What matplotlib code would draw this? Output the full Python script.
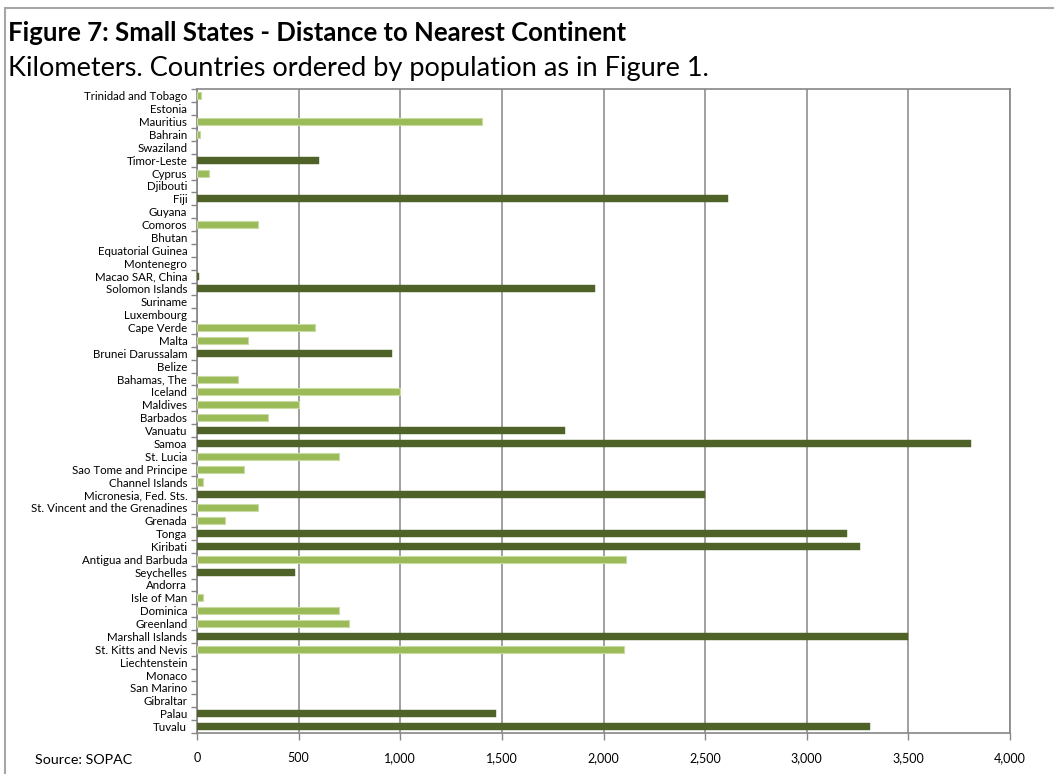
import matplotlib
matplotlib.use("Agg")
import matplotlib.pyplot as plt
from matplotlib.patches import Rectangle
from matplotlib.ticker import FuncFormatter

plt.rcParams['font.family'] = ['Lato', 'DejaVu Sans']

# Countries ordered by population (top to bottom)
countries = [
    "Trinidad and Tobago", "Estonia", "Mauritius", "Bahrain", "Swaziland",
    "Timor-Leste", "Cyprus", "Djibouti", "Fiji", "Guyana", "Comoros", "Bhutan",
    "Equatorial Guinea", "Montenegro", "Macao SAR, China", "Solomon Islands",
    "Suriname", "Luxembourg", "Cape Verde", "Malta", "Brunei Darussalam",
    "Belize", "Bahamas, The", "Iceland", "Maldives", "Barbados", "Vanuatu",
    "Samoa", "St. Lucia", "Sao Tome and Principe", "Channel Islands",
    "Micronesia, Fed. Sts.", "St. Vincent and the Grenadines", "Grenada",
    "Tonga", "Kiribati", "Antigua and Barbuda", "Seychelles", "Andorra",
    "Isle of Man", "Dominica", "Greenland", "Marshall Islands",
    "St. Kitts and Nevis", "Liechtenstein", "Monaco", "San Marino",
    "Gibraltar", "Palau", "Tuvalu",
]

# Distance to nearest continent, km
distance_km = [
    20, 0, 1400, 15, 0,
    600, 60, 0, 2610, 0, 300, 0,
    0, 0, 10, 1960,
    0, 0, 580, 250, 960,
    0, 200, 1000, 500, 350, 1810,
    3810, 700, 230, 30,
    2500, 300, 140,
    3200, 3260, 2110, 480, 0,
    30, 700, 750, 3500,
    2100, 0, 0, 0,
    0, 1470, 3310,
]

# Countries drawn in the darker shade
dark_group = [
    "Timor-Leste", "Fiji", "Macao SAR, China", "Solomon Islands",
    "Brunei Darussalam", "Vanuatu", "Samoa", "Micronesia, Fed. Sts.",
    "Tonga", "Kiribati", "Seychelles", "Marshall Islands", "Palau", "Tuvalu",
]

x_ticks = [0, 500, 1000, 1500, 2000, 2500, 3000, 3500, 4000]

DARK = "#4F6228"
LIGHT = "#9BBB59"
GRID = "#868686"

fig = plt.figure(figsize=(10.54, 7.74), dpi=100)
ax = fig.add_axes([0.1869, 0.053, 0.7714, 0.8314])

ypos = list(range(len(countries)))
for y, name, val in zip(ypos, countries, distance_km):
    if val <= 0:
        continue
    if name in dark_group:
        ax.barh(y, val, height=0.55, color=DARK, edgecolor=DARK, linewidth=0.3, zorder=3)
    else:
        ax.barh(y, val, height=0.55, color=LIGHT, edgecolor="#C9DAA3", linewidth=0.8, zorder=3)

ax.set_xlim(0, 4000)
ax.set_ylim(len(countries) - 0.5, -0.5)

ax.set_xticks(x_ticks)
ax.xaxis.set_major_formatter(FuncFormatter(lambda v, p: f"{int(v):,}"))
ax.tick_params(axis="x", length=5, width=1, color=GRID, labelsize=9, pad=9)
ax.grid(axis="x", color=GRID, linewidth=1.1, zorder=0)

# Tick marks between categories, labels at the centres
ax.set_yticks([i - 0.5 for i in range(len(countries) + 1)])
ax.set_yticklabels([])
ax.tick_params(axis="y", which="major", length=4, width=1, color=GRID)
ax.set_yticks(ypos, minor=True)
ax.set_yticklabels(countries, minor=True, fontsize=8.3)
ax.tick_params(axis="y", which="minor", length=0, pad=7)

for s in ax.spines.values():
    s.set_color(GRID)
    s.set_linewidth(1.2)

# Chart frame
fig.patches.append(Rectangle((0.0047, -0.1), 1.2, 1.0897, transform=fig.transFigure,
                             fill=False, edgecolor="#A6A6A6", linewidth=1.5))

fig.text(0.0076, 0.957, "Figure 7: Small States - Distance to Nearest Continent",
         fontsize=18.5, fontweight="bold", va="center", ha="left")
fig.text(0.0076, 0.912, "Kilometers. Countries ordered by population as in Figure 1.",
         fontsize=19.5, va="center", ha="left")
fig.text(0.033, 0.018, "Source: SOPAC", fontsize=10.3, va="center", ha="left")

fig.savefig("out.png", dpi=100)
